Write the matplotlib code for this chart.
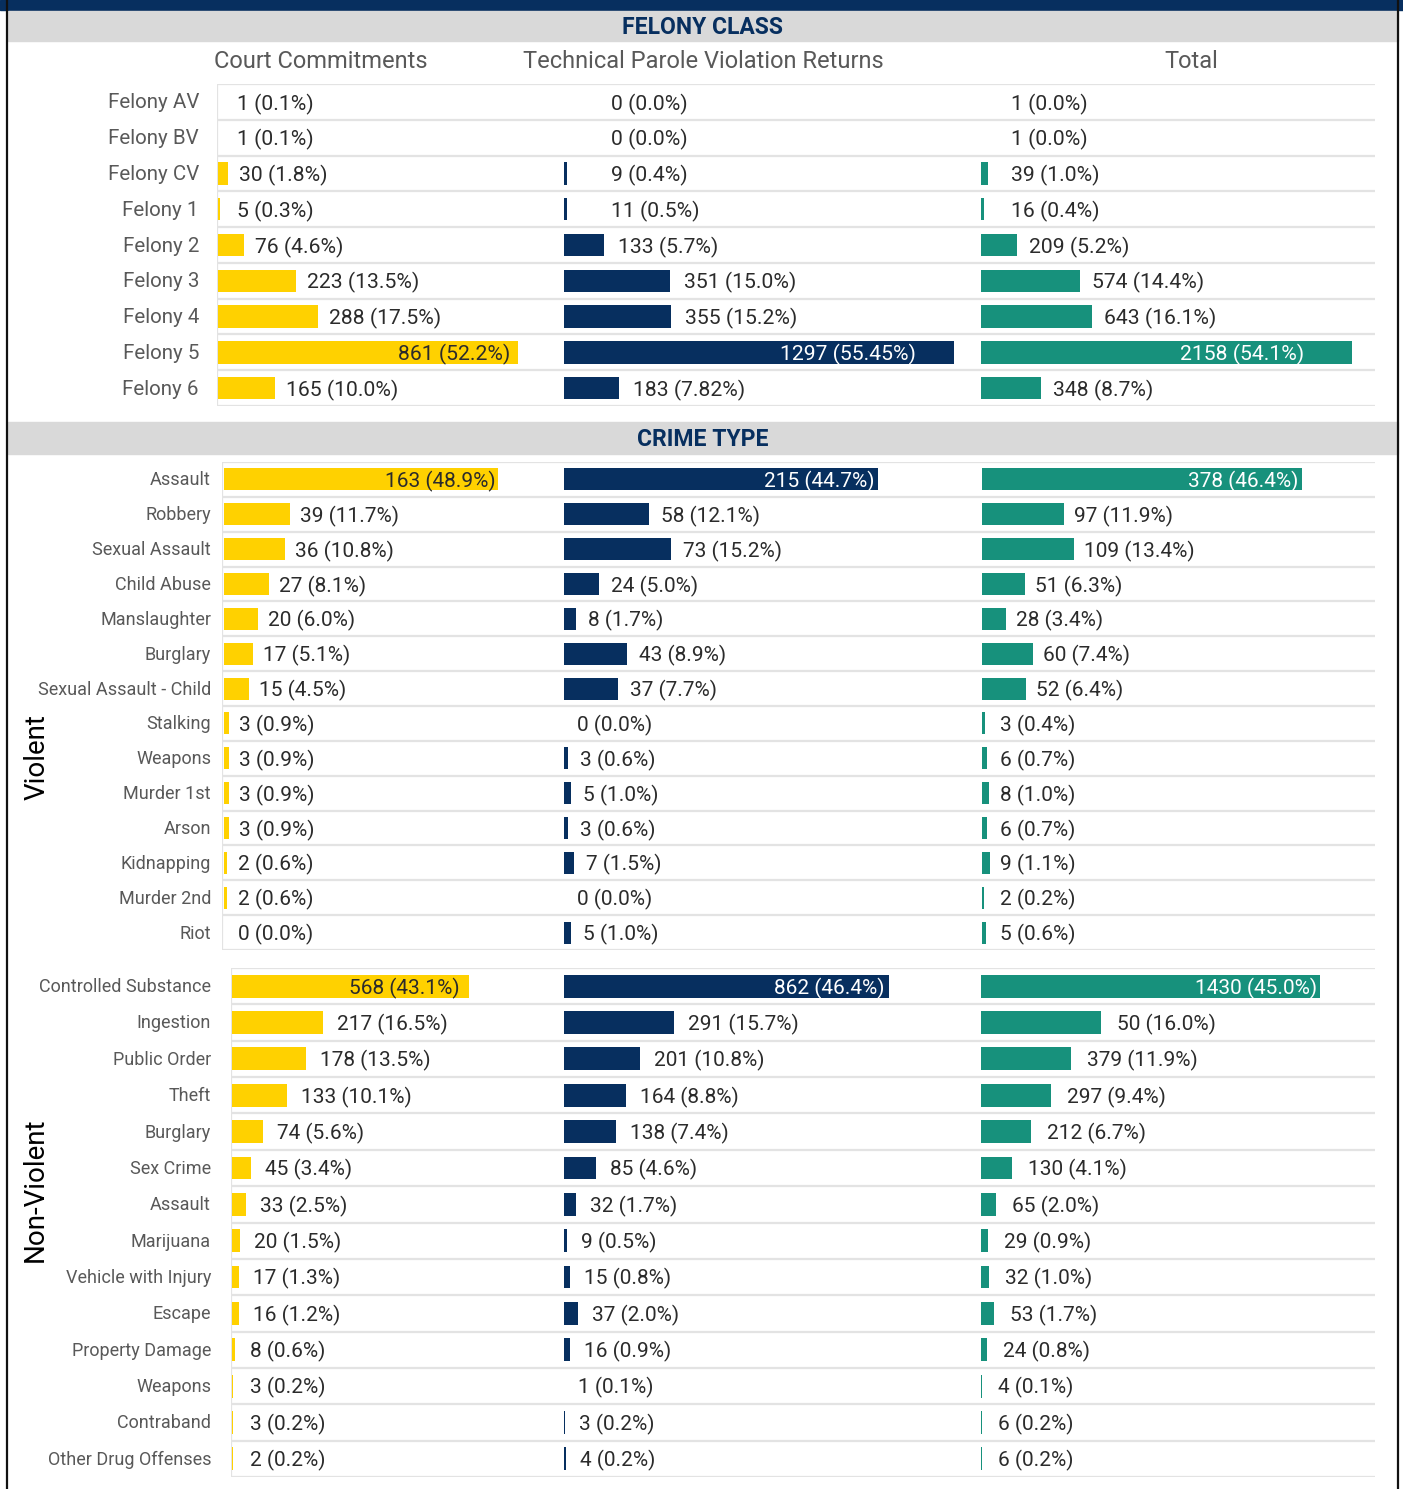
import matplotlib
matplotlib.use("Agg")
import matplotlib.pyplot as plt
from matplotlib.transforms import blended_transform_factory
from matplotlib.patches import Rectangle

plt.rcParams['font.family'] = ['Roboto', 'DejaVu Sans']

# ---------------- DATA ----------------
felony_labels = ["Felony AV", "Felony BV", "Felony CV", "Felony 1", "Felony 2",
                 "Felony 3", "Felony 4", "Felony 5", "Felony 6"]
felony_court = [1, 1, 30, 5, 76, 223, 288, 861, 165]
felony_court_pct = ["0.1%", "0.1%", "1.8%", "0.3%", "4.6%", "13.5%", "17.5%", "52.2%", "10.0%"]
felony_tech = [0, 0, 9, 11, 133, 351, 355, 1297, 183]
felony_tech_pct = ["0.0%", "0.0%", "0.4%", "0.5%", "5.7%", "15.0%", "15.2%", "55.45%", "7.82%"]
felony_total = [1, 1, 39, 16, 209, 574, 643, 2158, 348]
felony_total_pct = ["0.0%", "0.0%", "1.0%", "0.4%", "5.2%", "14.4%", "16.1%", "54.1%", "8.7%"]

violent_labels = ["Assault", "Robbery", "Sexual Assault", "Child Abuse", "Manslaughter",
                  "Burglary", "Sexual Assault - Child", "Stalking", "Weapons", "Murder 1st",
                  "Arson", "Kidnapping", "Murder 2nd", "Riot"]
violent_court = [163, 39, 36, 27, 20, 17, 15, 3, 3, 3, 3, 2, 2, 0]
violent_court_pct = ["48.9%", "11.7%", "10.8%", "8.1%", "6.0%", "5.1%", "4.5%", "0.9%",
                     "0.9%", "0.9%", "0.9%", "0.6%", "0.6%", "0.0%"]
violent_tech = [215, 58, 73, 24, 8, 43, 37, 0, 3, 5, 3, 7, 0, 5]
violent_tech_pct = ["44.7%", "12.1%", "15.2%", "5.0%", "1.7%", "8.9%", "7.7%", "0.0%",
                    "0.6%", "1.0%", "0.6%", "1.5%", "0.0%", "1.0%"]
violent_total = [378, 97, 109, 51, 28, 60, 52, 3, 6, 8, 6, 9, 2, 5]
violent_total_pct = ["46.4%", "11.9%", "13.4%", "6.3%", "3.4%", "7.4%", "6.4%", "0.4%",
                     "0.7%", "1.0%", "0.7%", "1.1%", "0.2%", "0.6%"]

nonviolent_labels = ["Controlled Substance", "Ingestion", "Public Order", "Theft", "Burglary",
                     "Sex Crime", "Assault", "Marijuana", "Vehicle with Injury", "Escape",
                     "Property Damage", "Weapons", "Contraband", "Other Drug Offenses"]
nonviolent_court = [568, 217, 178, 133, 74, 45, 33, 20, 17, 16, 8, 3, 3, 2]
nonviolent_court_pct = ["43.1%", "16.5%", "13.5%", "10.1%", "5.6%", "3.4%", "2.5%", "1.5%",
                        "1.3%", "1.2%", "0.6%", "0.2%", "0.2%", "0.2%"]
nonviolent_tech = [862, 291, 201, 164, 138, 85, 32, 9, 15, 37, 16, 1, 3, 4]
nonviolent_tech_pct = ["46.4%", "15.7%", "10.8%", "8.8%", "7.4%", "4.6%", "1.7%", "0.5%",
                       "0.8%", "2.0%", "0.9%", "0.1%", "0.2%", "0.2%"]
nonviolent_total = [1430, 508, 379, 297, 212, 130, 65, 29, 32, 53, 24, 4, 6, 6]
# counts as printed on the chart (the source prints "50" for Ingestion)
nonviolent_total_printed = [1430, 50, 379, 297, 212, 130, 65, 29, 32, 53, 24, 4, 6, 6]
nonviolent_total_pct = ["45.0%", "16.0%", "11.9%", "9.4%", "6.7%", "4.1%", "2.0%", "0.9%",
                        "1.0%", "1.7%", "0.8%", "0.1%", "0.2%", "0.2%"]

column_headers = ["Court Commitments", "Technical Parole Violation Returns", "Total"]

# ---------------- STYLE ----------------
W, H = 1403, 1489
YELLOW = "#FFD100"
NAVY = "#072F5F"
TEAL = "#17917C"
GRID = "#E3E3E3"
BAND = "#D9D9D9"
VALTXT = "#2B2B2B"
LBLTXT = "#595959"
colors = [YELLOW, NAVY, TEAL]
inside_txt = [VALTXT, "white", "white"]
RIGHT = 1375

fig = plt.figure(figsize=(W / 100, H / 100), dpi=100)


def px_ax(x0, y0, x1, y1):
    return fig.add_axes([x0 / W, 1 - y1 / H, (x1 - x0) / W, (y1 - y0) / H])


def fy(y):
    return 1 - y / H


# frame and bands
fig.patches.append(Rectangle((0, fy(10)), 1, 10 / H, transform=fig.transFigure,
                             color=NAVY, zorder=0))
for (y0, y1) in [(11, 41), (422, 454)]:
    fig.patches.append(Rectangle((8 / W, fy(y1)), (1398 - 8) / W, (y1 - y0) / H,
                                 transform=fig.transFigure, color=BAND, zorder=0))
for xx in [7, 1398]:
    fig.lines.append(plt.Line2D([xx / W, xx / W], [0, 1], transform=fig.transFigure,
                                color="#111111", lw=1.6))

fig.text(703 / W, fy(28), "FELONY CLASS", ha="center", va="center", fontsize=16.5,
         fontweight="bold", color=NAVY)
fig.text(703 / W, fy(440), "CRIME TYPE", ha="center", va="center", fontsize=16.5,
         fontweight="bold", color=NAVY)
for txt, xc in zip(column_headers, [321, 703, 1191]):
    fig.text(xc / W, fy(62), txt, ha="center", va="center", fontsize=17, color=LBLTXT)

fig.text(37 / W, fy(757), "Violent", rotation=90, ha="center", va="center",
         fontsize=20, color="black")
fig.text(35 / W, fy(1190), "Non-Violent", rotation=90, ha="center", va="center",
         fontsize=20, color="black")

sections = [
    dict(labels=felony_labels,
         cols=[(felony_court, felony_court, felony_court_pct),
               (felony_tech, felony_tech, felony_tech_pct),
               (felony_total, felony_total, felony_total_pct)],
         top=84, bottom=406, axis_x=217, label_x=199, lblsize=14.8, valsize=15.2,
         starts=[218, 564, 981], maxpx=[300, 390, 371], dy=0.06,
         off=[11, 14, 12], minoff=[19, 47, 30], inoff=[8, 38, 48]),
    dict(labels=violent_labels,
         cols=[(violent_court, violent_court, violent_court_pct),
               (violent_tech, violent_tech, violent_tech_pct),
               (violent_total, violent_total, violent_total_pct)],
         top=462, bottom=950, axis_x=222, label_x=211, lblsize=13, valsize=15,
         starts=[224, 564, 982], maxpx=[274, 314, 320], dy=0.06,
         off=[10, 12, 10], minoff=[14, 13, 18], inoff=[2, 4, 4]),
    dict(labels=nonviolent_labels,
         cols=[(nonviolent_court, nonviolent_court, nonviolent_court_pct),
               (nonviolent_tech, nonviolent_tech, nonviolent_tech_pct),
               (nonviolent_total, nonviolent_total_printed, nonviolent_total_pct)],
         top=968, bottom=1477, axis_x=231, label_x=211, lblsize=13, valsize=15,
         starts=[232, 564, 981], maxpx=[237, 325, 339], dy=0.05,
         off=[14, 14, 16], minoff=[18, 10, 11], inoff=[9, 5, 3]),
]

for sec in sections:
    n = len(sec["labels"])
    top, bottom = sec["top"], sec["bottom"]
    # background grid axes
    bg = px_ax(sec["axis_x"], top, RIGHT, bottom)
    bg.set_xlim(0, 1)
    bg.set_ylim(n, 0)
    bg.axis("off")
    for k in range(n + 1):
        bg.axhline(k, color=GRID, lw=1.6, zorder=0)
    bg.axvline(0, color=GRID, lw=1.6, zorder=0)
    trans = blended_transform_factory(fig.transFigure, bg.transData)
    for i, lab in enumerate(sec["labels"]):
        bg.text(sec["label_x"] / W, i + 0.5 + sec["dy"] / 2, lab, transform=trans, ha="right",
                va="center", fontsize=sec["lblsize"], color=LBLTXT)

    ends = sec["starts"][1:] + [RIGHT]
    for j, (vals, printed, pcts) in enumerate(sec["cols"]):
        x0, x1 = sec["starts"][j], ends[j]
        ax = px_ax(x0, top, x1, bottom)
        ax.patch.set_alpha(0)
        vmax = max(vals)
        ppu = sec["maxpx"][j] / vmax
        ax.set_xlim(0, (x1 - x0) / ppu)
        ax.set_ylim(n, 0)
        ax.axis("off")
        ys = [i + 0.5 for i in range(n)]
        ax.barh(ys, vals, height=0.63, color=colors[j], edgecolor="none")
        imax = vals.index(vmax)
        for i, (v, c, p) in enumerate(zip(vals, printed, pcts)):
            label = f"{c} ({p})"
            yt = i + 0.5 + sec["dy"]
            if i == imax:
                ax.text(v - sec["inoff"][j] / ppu, yt, label, ha="right", va="center",
                        fontsize=sec["valsize"], color=inside_txt[j])
            else:
                xt = max(v + sec["off"][j] / ppu, sec["minoff"][j] / ppu)
                ax.text(xt, yt, label, ha="left", va="center",
                        fontsize=sec["valsize"], color=VALTXT)

fig.savefig("out.png", dpi=100)
